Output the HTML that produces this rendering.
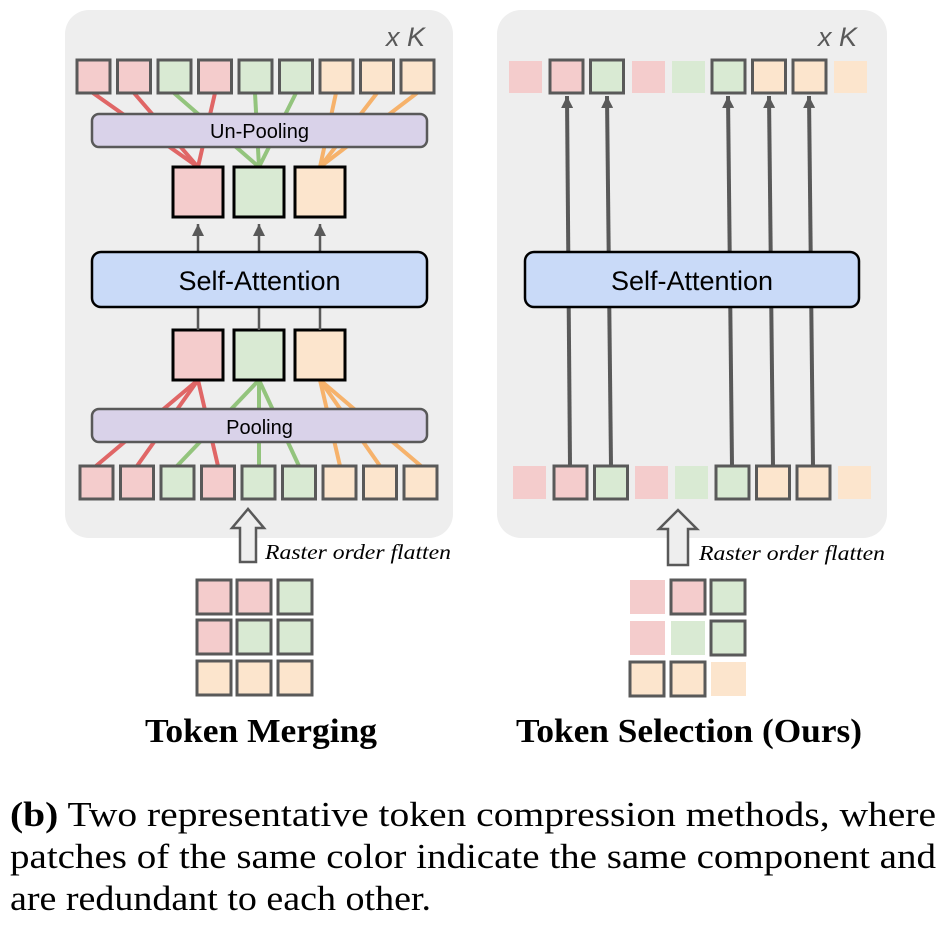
<!DOCTYPE html>
<html><head><meta charset="utf-8"><style>html,body{margin:0;padding:0;background:#fff}svg{display:block}.sf{font-family:"Liberation Serif","Times New Roman",serif}.ss{font-family:"Liberation Sans",Arial,sans-serif}</style></head><body>
<svg width="948" height="928" viewBox="0 0 948 928" xmlns="http://www.w3.org/2000/svg">
<defs>
<marker id="ah2" viewBox="0 0 10 10" markerWidth="12" markerHeight="12" refX="10" refY="5" orient="auto" markerUnits="userSpaceOnUse"><path d="M0,0 L10,5 L0,10 Z" fill="#595959"/></marker>
</defs>
<rect x="65" y="10" width="388" height="528" rx="24" fill="#eeeeee"/>
<rect x="497" y="10" width="390" height="528" rx="24" fill="#eeeeee"/>
<g class="ss" font-size="27" fill="#595959" font-style="italic"><text x="386" y="46">x K</text><text x="818" y="46">x K</text></g>

<g stroke-width="4" fill="none">
<g stroke="#e06666"><line x1="93" y1="93" x2="198" y2="167"/><line x1="134" y1="93" x2="198" y2="167"/><line x1="215" y1="93" x2="198" y2="167"/></g>
<g stroke="#93c47d"><line x1="174" y1="93" x2="259" y2="167"/><line x1="255" y1="93" x2="259" y2="167"/><line x1="296" y1="93" x2="259" y2="167"/></g>
<g stroke="#f6b26b"><line x1="336" y1="93" x2="320" y2="167"/><line x1="377" y1="93" x2="320" y2="167"/><line x1="417" y1="93" x2="320" y2="167"/></g>
<g stroke="#e06666"><line x1="96" y1="466" x2="198" y2="380"/><line x1="137" y1="466" x2="198" y2="380"/><line x1="218" y1="466" x2="198" y2="380"/></g>
<g stroke="#93c47d"><line x1="177" y1="466" x2="259" y2="380"/><line x1="259" y1="466" x2="259" y2="380"/><line x1="299" y1="466" x2="259" y2="380"/></g>
<g stroke="#f6b26b"><line x1="340" y1="466" x2="320" y2="380"/><line x1="380" y1="466" x2="320" y2="380"/><line x1="421" y1="466" x2="320" y2="380"/></g>
</g>
<g stroke="#595959" stroke-width="3">
<rect x="77" y="60" width="33" height="33" fill="#f4cccc"/><rect x="117.5" y="60" width="33" height="33" fill="#f4cccc"/><rect x="158" y="60" width="33" height="33" fill="#d9ead3"/><rect x="198.5" y="60" width="33" height="33" fill="#f4cccc"/><rect x="239" y="60" width="33" height="33" fill="#d9ead3"/><rect x="279.5" y="60" width="33" height="33" fill="#d9ead3"/><rect x="320" y="60" width="33" height="33" fill="#fce5cd"/><rect x="360.5" y="60" width="33" height="33" fill="#fce5cd"/><rect x="401" y="60" width="33" height="33" fill="#fce5cd"/>
<rect x="80" y="466" width="33" height="33" fill="#f4cccc"/><rect x="120.5" y="466" width="33" height="33" fill="#f4cccc"/><rect x="161" y="466" width="33" height="33" fill="#d9ead3"/><rect x="201.5" y="466" width="33" height="33" fill="#f4cccc"/><rect x="242" y="466" width="33" height="33" fill="#d9ead3"/><rect x="282.5" y="466" width="33" height="33" fill="#d9ead3"/><rect x="323" y="466" width="33" height="33" fill="#fce5cd"/><rect x="363.5" y="466" width="33" height="33" fill="#fce5cd"/><rect x="404" y="466" width="33" height="33" fill="#fce5cd"/>
</g>
<rect x="92" y="114" width="335" height="33" rx="7" fill="#d9d2e9" stroke="#595959" stroke-width="2.5"/>
<text class="ss" x="259.5" y="138" text-anchor="middle" font-size="20">Un-Pooling</text>
<rect x="92" y="409" width="335" height="33" rx="7" fill="#d9d2e9" stroke="#595959" stroke-width="2.5"/>
<text class="ss" x="259.5" y="434" text-anchor="middle" font-size="20">Pooling</text>
<g stroke="#000" stroke-width="3">
<rect x="173" y="167" width="50" height="50" fill="#f4cccc"/><rect x="234" y="167" width="50" height="50" fill="#d9ead3"/><rect x="295" y="167" width="50" height="50" fill="#fce5cd"/>
<rect x="173" y="330" width="50" height="50" fill="#f4cccc"/><rect x="234" y="330" width="50" height="50" fill="#d9ead3"/><rect x="295" y="330" width="50" height="50" fill="#fce5cd"/>
</g>
<g stroke="#595959" stroke-width="2.5">
<line x1="198" y1="252" x2="198" y2="224" marker-end="url(#ah2)"/><line x1="259" y1="252" x2="259" y2="224" marker-end="url(#ah2)"/><line x1="320" y1="252" x2="320" y2="224" marker-end="url(#ah2)"/>
<line x1="198" y1="307" x2="198" y2="330"/><line x1="259" y1="307" x2="259" y2="330"/><line x1="320" y1="307" x2="320" y2="330"/>
</g>
<rect x="92" y="252" width="335" height="55" rx="9" fill="#c9daf8" stroke="#000" stroke-width="2.5"/>
<text class="ss" x="259.5" y="290" text-anchor="middle" font-size="27">Self-Attention</text>

<g stroke="#595959" stroke-width="4">
<line x1="570" y1="466" x2="567" y2="96" marker-end="url(#ah2)"/>
<line x1="611" y1="466" x2="607" y2="96" marker-end="url(#ah2)"/>
<line x1="732" y1="466" x2="728" y2="96" marker-end="url(#ah2)"/>
<line x1="773" y1="466" x2="769" y2="96" marker-end="url(#ah2)"/>
<line x1="813" y1="466" x2="809" y2="96" marker-end="url(#ah2)"/>
</g>
<g>
<rect x="509" y="61" width="33" height="32" fill="#f4cccc"/>
<rect x="632" y="61" width="33" height="32" fill="#f4cccc"/>
<rect x="672" y="61" width="33" height="32" fill="#d9ead3"/>
<rect x="834" y="61" width="33" height="32" fill="#fce5cd"/>
<rect x="513" y="466" width="33" height="33" fill="#f4cccc"/>
<rect x="635" y="466" width="33" height="33" fill="#f4cccc"/>
<rect x="675" y="466" width="33" height="33" fill="#d9ead3"/>
<rect x="838" y="466" width="33" height="33" fill="#fce5cd"/>
</g>
<g stroke="#595959" stroke-width="3">
<rect x="550" y="60" width="33" height="33" fill="#f4cccc"/><rect x="590.5" y="60" width="33" height="33" fill="#d9ead3"/><rect x="712" y="60" width="33" height="33" fill="#d9ead3"/><rect x="752.5" y="60" width="33" height="33" fill="#fce5cd"/><rect x="793" y="60" width="33" height="33" fill="#fce5cd"/>
<rect x="554" y="466" width="33" height="33" fill="#f4cccc"/><rect x="594.5" y="466" width="33" height="33" fill="#d9ead3"/><rect x="716" y="466" width="33" height="33" fill="#d9ead3"/><rect x="756.5" y="466" width="33" height="33" fill="#fce5cd"/><rect x="797" y="466" width="33" height="33" fill="#fce5cd"/>
</g>
<rect x="525" y="252" width="334" height="55" rx="9" fill="#c9daf8" stroke="#000" stroke-width="2.5"/>
<text class="ss" x="692" y="290" text-anchor="middle" font-size="27">Self-Attention</text>

<path d="M240,562 L240,528 L232,528 L248,509 L264,528 L256,528 L256,562 Z" fill="#eeeeee" stroke="#595959" stroke-width="2.5"/>
<path d="M668,565 L668,529 L659,529 L678,510 L697,529 L688,529 L688,565 Z" fill="#eeeeee" stroke="#595959" stroke-width="2.5"/>
<g class="sf" font-style="italic" font-size="21"><text x="265" y="559" textLength="186" lengthAdjust="spacingAndGlyphs">Raster order flatten</text><text x="699" y="560" textLength="186" lengthAdjust="spacingAndGlyphs">Raster order flatten</text></g>

<g stroke="#595959" stroke-width="3">
<rect x="197" y="580" width="34" height="34" fill="#f4cccc"/><rect x="237" y="580" width="34" height="34" fill="#f4cccc"/><rect x="278" y="580" width="34" height="34" fill="#d9ead3"/>
<rect x="197" y="620" width="34" height="34" fill="#f4cccc"/><rect x="237" y="620" width="34" height="34" fill="#d9ead3"/><rect x="278" y="620" width="34" height="34" fill="#d9ead3"/>
<rect x="197" y="661" width="34" height="34" fill="#fce5cd"/><rect x="237" y="661" width="34" height="34" fill="#fce5cd"/><rect x="278" y="661" width="34" height="34" fill="#fce5cd"/>
</g>
<rect x="630" y="580" width="35" height="34" fill="#f4cccc"/>
<rect x="630" y="621" width="35" height="34" fill="#f4cccc"/>
<rect x="671" y="621" width="34" height="34" fill="#d9ead3"/>
<rect x="711" y="662" width="35" height="34" fill="#fce5cd"/>
<g stroke="#595959" stroke-width="3">
<rect x="671" y="580" width="34" height="34" fill="#f4cccc"/><rect x="711" y="580" width="34" height="34" fill="#d9ead3"/>
<rect x="711" y="621" width="34" height="34" fill="#d9ead3"/>
<rect x="630" y="662" width="34" height="34" fill="#fce5cd"/><rect x="671" y="662" width="34" height="34" fill="#fce5cd"/>
</g>

<g class="sf">
<text x="145" y="742" font-weight="bold" font-size="34" textLength="232" lengthAdjust="spacingAndGlyphs">Token Merging</text>
<text x="516" y="742" font-weight="bold" font-size="34" textLength="346" lengthAdjust="spacingAndGlyphs">Token Selection (Ours)</text>
<text x="10" y="826" font-size="35" textLength="926" lengthAdjust="spacingAndGlyphs"><tspan font-weight="bold">(b)</tspan> Two representative token compression methods, where</text>
<text x="10" y="868" font-size="35" textLength="926" lengthAdjust="spacingAndGlyphs">patches of the same color indicate the same component and</text>
<text x="10" y="910" font-size="35" textLength="421" lengthAdjust="spacingAndGlyphs">are redundant to each other.</text>
</g>
</svg>
</body></html>
